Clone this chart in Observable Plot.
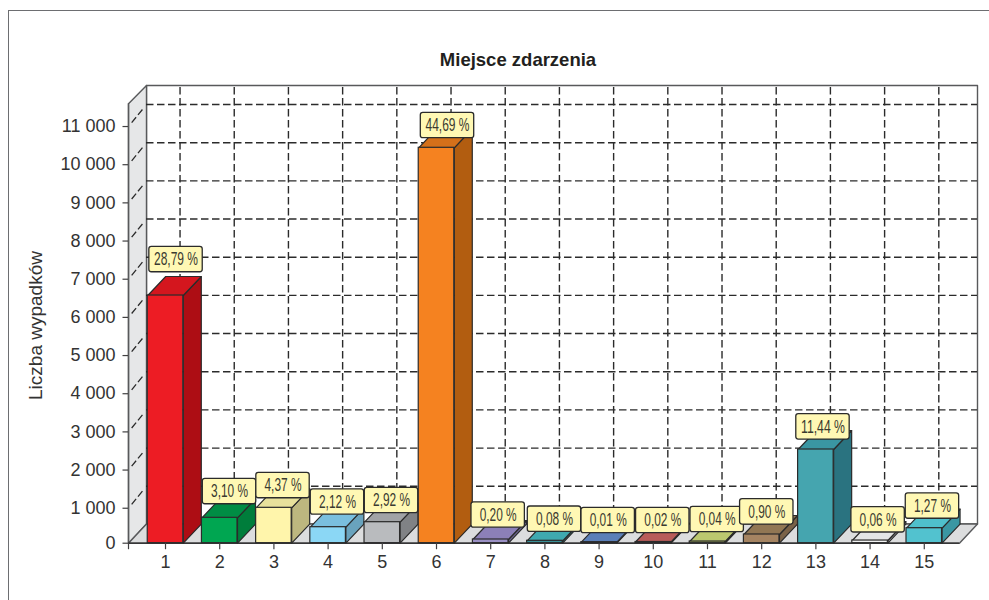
<!DOCTYPE html>
<html lang="pl">
<head>
<meta charset="utf-8">
<script src="https://cdn.jsdelivr.net/npm/d3@7"></script>
<script src="https://cdn.jsdelivr.net/npm/@observablehq/plot@0.6"></script>
<style>
html,body{margin:0;padding:0;background:#fff;overflow:hidden;width:989px;height:600px}
#border{position:absolute;left:7.5px;top:9.5px;width:1100px;height:800px;border:1.4px solid #6d6e71;box-sizing:border-box}
#title{position:absolute;left:318px;width:400px;top:49px;text-align:center;font:bold 18.5px "Liberation Sans",Arial,sans-serif;color:#231f20;line-height:22px}
#chart{position:absolute;left:0;top:72px}
#chart svg{background:transparent;overflow:visible}
</style>
</head>
<body>
<div id="border"></div>
<div id="title">Miejsce zdarzenia</div>
<div id="chart"></div>
<script>
const categories = [1,2,3,4,5,6,7,8,9,10,11,12,13,14,15];
const values = [6573,749,1011,503,634,10443,181,147,110,115,128,312,2539,154,477];
const percentLabels = ["28,79 %","3,10 %","4,37 %","2,12 %","2,92 %","44,69 %","0,20 %","0,08 %","0,01 %","0,02 %","0,04 %","0,90 %","11,44 %","0,06 %","1,27 %"];
const labelCat = [1.194,2.181,3.168,4.173,5.170,6.203,7.138,8.177,9.168,10.175,11.179,12.094,13.131,14.148,15.151];
const labelVal = [7516,1438,1595,1163,1203,11027,823,713,679,679,705,906,3133,697,1058];
const frontColors = ["#ed1c24","#00a651","#fff5ab","#8bd7f5","#b9bbbe","#f58220","#9a90c4","#3a8f96","#4f6fa8","#a84f4d","#a3b05c","#a58462","#45a5af","#f1f2f2","#52c2cf"];
const topColors = ["#d4161e","#008d44","#e8e19c","#7abfde","#a1a3a6","#d4701a","#8c80b8","#3fa9b0","#5b7fb8","#b85c5a","#bcc86f","#917754","#3a96a2","#e4e5e6","#4fc0cc"];
const sideColors = ["#ad0d14","#007d3b","#bdb77f","#69a3bd","#808285","#b25d10","#6c6490","#2f7f85","#44608f","#8c3f3d","#8d9a4c","#7a6247","#2a7380","#bcbec0","#3a97a3"];

const yBase = 84;                 // the floor of the chart, where the "0" is printed
const yTickValues = [yBase,1000,2000,3000,4000,5000,6000,7000,8000,9000,10000,11000];
const yTickLabels = ["0","1 000","2 000","3 000","4 000","5 000","6 000","7 000","8 000","9 000","10 000","11 000"];
const gridValues = [1000,2000,3000,4000,5000,6000,7000,8000,9000,10000,11000];

// extent of the 3D box, in data units
const xFront = 0.317, xFrontEnd = 15.649, xBack = 0.649, xBackEnd = 15.982;
const yWallTop = 11596, yBackTop = 12075, yFloorBack = 587;
const depthX = 0.332, depthY = 498, gridRise = 576, half = 0.328;
const gridCats = categories.map(c => c + 0.268);

const bars = categories.map((c,i) => ({c, v: values[i], front: frontColors[i], top: topColors[i], side: sideColors[i],
  label: percentLabels[i], lx: labelCat[i], ly: labelVal[i]}));

const poly = (id, fill, pts) => pts.map(([x,y]) => ({id, fill, x, y}));
const wallFaces = [
  ...poly("back","#ffffff",[[xBack,yFloorBack],[xBack,yBackTop],[xBackEnd,yBackTop],[xBackEnd,yFloorBack]]),
  ...poly("left","#e6e7e8",[[xFront,yBase],[xFront,yWallTop],[xBack,yBackTop],[xBack,yFloorBack]]),
  ...poly("floor","#dcddde",[[xFront,yBase],[xBack,yFloorBack],[xBackEnd,yFloorBack],[xFrontEnd,yBase]])
];
const barFaces = bars.flatMap(b => [
  ...poly("side"+b.c,b.side,[[b.c+half,yBase],[b.c+half+depthX,yBase+depthY],[b.c+half+depthX,b.v+depthY],[b.c+half,b.v]]),
  ...poly("top"+b.c,b.top,[[b.c-half,b.v],[b.c-half+depthX,b.v+depthY],[b.c+half+depthX,b.v+depthY],[b.c+half,b.v]])
]);

// The reference sets the percentages in a condensed face: squeeze the glyphs to that width.
const condense = (index, scales, channels, dimensions, context, next) => {
  const g = next(index, scales, channels, dimensions, context);
  g.querySelectorAll("text").forEach(t => {
    t.setAttribute("lengthAdjust", "spacingAndGlyphs");
    t.setAttribute("textLength", t.textContent.trim().length >= 7 ? 44 : 37);
  });
  return g;
};

const ink = "#414042", dark = "#2b2b2b";
const chart = Plot.plot({
  width: 989, height: 528,
  marginLeft: 128, marginRight: 12, marginTop: 13, marginBottom: 57.3,
  style: {fontFamily: '"Liberation Sans",Arial,sans-serif', color: "#333"},
  x: {type: "linear", domain: [xFront, xBackEnd]},
  y: {type: "linear", domain: [yBase, yBackTop]},
  color: {type: "identity"},
  marks: [
    Plot.line(wallFaces, {x:"x", y:"y", z:"id", fill:"fill", stroke:"#58595b", strokeWidth:1.4, curve:"linear-closed"}),
    Plot.ruleY(gridValues, {y: d => d + gridRise, x1: xBack, x2: xBackEnd, stroke: dark, strokeWidth:1.4, strokeDasharray:"7.5,3.5"}),
    Plot.ruleX(gridCats, {x: d => d, y1: yFloorBack, y2: yBackTop, stroke: dark, strokeWidth:1.4, strokeDasharray:"7.5,3.5"}),
    Plot.link(gridValues, {x1: xFront, y1: d => d, x2: xBack, y2: d => d + gridRise, stroke: dark, strokeWidth:1.3, strokeDasharray:"0,5,7,3,7,20", markerEnd:"none"}),
    Plot.line(barFaces, {x:"x", y:"y", z:"id", fill:"fill", stroke: dark, strokeWidth:1.2, curve:"linear-closed"}),
    Plot.rect(bars, {x1: d => d.c - half, x2: d => d.c + half, y1: yBase, y2: "v", fill:"front", stroke: dark, strokeWidth:1.2}),
    Plot.ruleX([xFront], {y1: yBase, y2: yWallTop, stroke:"#58595b", strokeWidth:1.4}),
    Plot.ruleY([yBase], {x1: xFront, x2: xFrontEnd, stroke: dark, strokeWidth:1.3}),
    Plot.axisY(yTickValues, {anchor:"left", tickFormat:(d,i)=>yTickLabels[i], tickSize:5.5, tickPadding:7.5, fontSize:18, label:null, stroke:ink, fill:"#333", strokeWidth:1.2}),
    Plot.axisX(categories, {anchor:"bottom", tickFormat:d=>d, tickSize:6.5, tickPadding:6, fontSize:18, label:null, stroke:ink, fill:"#333", strokeWidth:1.2}),
    Plot.axisX([xFront], {anchor:"bottom", tickFormat:()=>"", tickSize:6.5, label:null, stroke:ink, strokeWidth:1.2}),
    Plot.text(["Liczba wypadków"], {x:-1.39, y:5787, rotate:-90, fontSize:19, fill:"#333"}),
    Plot.rect(bars, {x1: d => d.lx - 0.4926, x2: d => d.lx + 0.4926, y1: d => d.ly - 333, y2: d => d.ly + 333, rx:2.5, fill:"#fff8b4", stroke: dark, strokeWidth:1.3}),
    Plot.text(bars, {x:"lx", y:"ly", text:"label", fontFamily:'"Liberation Sans",sans-serif', fontSize:18.5, fill:"#3a3a30", render: condense})
  ]
});
document.getElementById("chart").append(chart);
</script>
</body>
</html>
